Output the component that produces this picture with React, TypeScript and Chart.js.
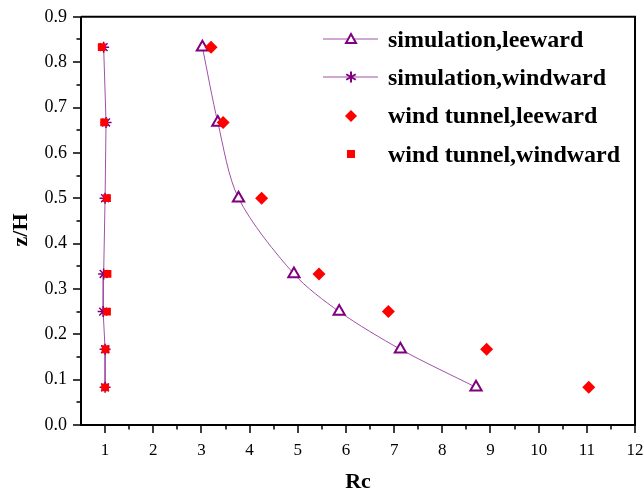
import React, { useEffect, useRef } from "react";
import { Chart, registerables } from "chart.js";

Chart.register(...registerables);

const zH = [0.833, 0.667, 0.5, 0.333, 0.25, 0.167, 0.083];
const simLeeward = [3.02, 3.34, 3.77, 4.92, 5.86, 7.13, 8.7];
const simWindward = [0.97, 1.02, 1.0, 0.97, 0.96, 1.0, 1.0];
const tunnelLeeward = [3.2, 3.45, 4.25, 5.44, 6.88, 8.92, 11.04];
const tunnelWindward = [0.93, 0.98, 1.04, 1.05, 1.04, 1.01, 1.0];
const seriesNames = [
  "simulation,leeward",
  "simulation,windward",
  "wind tunnel,leeward",
  "wind tunnel,windward",
];
const xMajorTicks = [1, 2, 3, 4, 5, 6, 7, 8, 9, 10, 11, 12];
const yMajorTicks = [0, 0.1, 0.2, 0.3, 0.4, 0.5, 0.6, 0.7, 0.8, 0.9];
const xTitle = "Rc";
const yTitle = "z/H";

const PURPLE = "#800080";
const LINE_PURPLE = "#a050a8";
const RED = "#ff0000";
const FONT = "'Liberation Serif', 'Times New Roman', serif";

const toPts = (xs: number[]) => xs.map((x, i) => ({ x, y: zH[i] }));

const axisPlugin = {
  id: "axisDecor",
  afterDraw(chart: any) {
    const ctx = chart.ctx;
    const { left, right, top, bottom } = chart.chartArea;
    const xs = chart.scales.x;
    const ys = chart.scales.y;
    ctx.save();
    ctx.strokeStyle = "#000";
    ctx.lineWidth = 2;
    ctx.beginPath();
    ctx.moveTo(left, top);
    ctx.lineTo(right, top);
    ctx.lineTo(right, bottom);
    ctx.lineTo(left, bottom);
    ctx.lineTo(left, top);
    ctx.stroke();
    ctx.lineWidth = 1.5;
    ctx.beginPath();
    for (let v = 1; v <= 12.001; v += 0.5) {
      const px = Math.round(xs.getPixelForValue(v));
      const major = Math.abs(v - Math.round(v)) < 1e-6;
      ctx.moveTo(px, bottom);
      ctx.lineTo(px, bottom + (major ? 8 : 4.5));
    }
    for (let i = 0; i <= 18; i++) {
      const v = i * 0.05;
      const py = Math.round(ys.getPixelForValue(v));
      const major = i % 2 === 0;
      ctx.moveTo(left, py);
      ctx.lineTo(left - (major ? 8 : 4.5), py);
    }
    ctx.stroke();

    // axis titles
    ctx.fillStyle = "#000";
    ctx.font = `bold 22px ${FONT}`;
    ctx.textAlign = "center";
    ctx.textBaseline = "middle";
    ctx.fillText(xTitle, (left + right) / 2, 482);
    ctx.save();
    ctx.translate(21, 230);
    ctx.rotate(-Math.PI / 2);
    ctx.fillText(yTitle, 0, 0);
    ctx.restore();

    // legend
    const lx0 = 323;
    const lx1 = 378;
    const mx = 351;
    const tx = 388;
    const rows = [39, 77, 116, 154];
    const baselines = [46.5, 85, 123, 161.5];
    ctx.font = `bold 24px ${FONT}`;
    ctx.textBaseline = "alphabetic";
    ctx.textAlign = "left";
    rows.forEach((ry, i) => {
      if (i < 2) {
        ctx.strokeStyle = LINE_PURPLE;
        ctx.lineWidth = 1;
        ctx.beginPath();
        ctx.moveTo(lx0, ry);
        ctx.lineTo(lx1, ry);
        ctx.stroke();
      }
      if (i === 0) {
        ctx.fillStyle = "#fff";
        ctx.strokeStyle = PURPLE;
        ctx.lineWidth = 2;
        ctx.beginPath();
        ctx.moveTo(mx, ry - 5);
        ctx.lineTo(mx + 5, ry + 4);
        ctx.lineTo(mx - 5, ry + 4);
        ctx.closePath();
        ctx.fill();
        ctx.stroke();
      } else if (i === 1) {
        ctx.strokeStyle = PURPLE;
        ctx.lineWidth = 2;
        ctx.beginPath();
        const r = 5.5;
        for (let k = 0; k < 3; k++) {
          const a = (Math.PI / 3) * k + Math.PI / 2;
          ctx.moveTo(mx + r * Math.cos(a), ry + r * Math.sin(a));
          ctx.lineTo(mx - r * Math.cos(a), ry - r * Math.sin(a));
        }
        ctx.stroke();
      } else if (i === 2) {
        ctx.fillStyle = RED;
        ctx.beginPath();
        ctx.moveTo(mx, ry - 6);
        ctx.lineTo(mx + 6, ry);
        ctx.lineTo(mx, ry + 6);
        ctx.lineTo(mx - 6, ry);
        ctx.closePath();
        ctx.fill();
      } else {
        ctx.fillStyle = RED;
        ctx.fillRect(mx - 4, ry - 4, 8, 8);
      }
      ctx.fillStyle = "#000";
      ctx.fillText(seriesNames[i], tx, baselines[i]);
    });
    ctx.restore();
  },
};

export default function App() {
  const ref = useRef<HTMLCanvasElement | null>(null);
  useEffect(() => {
    if (!ref.current) return;
    const chart = new Chart(ref.current, {
      type: "scatter",
      data: {
        datasets: [
          {
            label: seriesNames[0],
            data: toPts(simLeeward),
            showLine: true,
            tension: 0.3,
            borderColor: LINE_PURPLE,
            borderWidth: 1,
            pointStyle: "triangle",
            pointRadius: 6.5,
            pointBorderColor: PURPLE,
            pointBackgroundColor: "#ffffff",
            pointBorderWidth: 2,
            order: 2,
          },
          {
            label: seriesNames[1],
            data: toPts(simWindward),
            showLine: true,
            tension: 0,
            borderColor: LINE_PURPLE,
            borderWidth: 1,
            pointStyle: "star",
            pointRadius: 5.5,
            pointBorderColor: PURPLE,
            pointBackgroundColor: PURPLE,
            pointBorderWidth: 1.5,
            order: 2,
          },
          {
            label: seriesNames[2],
            data: toPts(tunnelLeeward),
            showLine: false,
            pointStyle: "rectRot",
            pointRadius: 6.5,
            pointBorderColor: RED,
            pointBackgroundColor: RED,
            pointBorderWidth: 0,
            order: 1,
          },
          {
            label: seriesNames[3],
            data: toPts(tunnelWindward),
            showLine: false,
            pointStyle: "rect",
            pointRadius: 5.5,
            pointBorderColor: RED,
            pointBackgroundColor: RED,
            pointBorderWidth: 0,
            order: 1,
          },
        ],
      },
      options: {
        animation: false,
        responsive: false,
        maintainAspectRatio: false,
        layout: { padding: { top: 10, right: 0, left: 0, bottom: 0 } },
        plugins: { legend: { display: false }, tooltip: { enabled: false } },
        scales: {
          x: {
            type: "linear",
            min: 0.5,
            max: 12,
            afterBuildTicks: (s: any) => {
              s.ticks = xMajorTicks.map((v) => ({ value: v }));
            },
            afterFit: (s: any) => {
              s.height = 70;
              s.paddingRight = 9;
              s.paddingLeft = 0;
            },
            grid: { display: false },
            border: { display: false },
            ticks: {
              color: "#000",
              font: { family: FONT, size: 17 },
              padding: 7,
              maxRotation: 0,
              autoSkip: false,
            },
          },
          y: {
            type: "linear",
            min: 0,
            max: 0.9,
            afterBuildTicks: (s: any) => {
              s.ticks = yMajorTicks.map((v) => ({ value: v }));
            },
            afterFit: (s: any) => {
              s.width = 81;
            },
            grid: { display: false },
            border: { display: false },
            ticks: {
              color: "#000",
              font: { family: FONT, size: 18 },
              padding: 6,
              callback: (v: any) => Number(v).toFixed(1),
              autoSkip: false,
            },
          },
        },
      },
      plugins: [axisPlugin],
    } as any);
    return () => chart.destroy();
  }, []);
  return (
    <div style={{ position: "fixed", left: 0, top: 0, width: 644, height: 495, background: "#fff" }}>
      <canvas ref={ref} width={644} height={495} style={{ display: "block" }} />
    </div>
  );
}
